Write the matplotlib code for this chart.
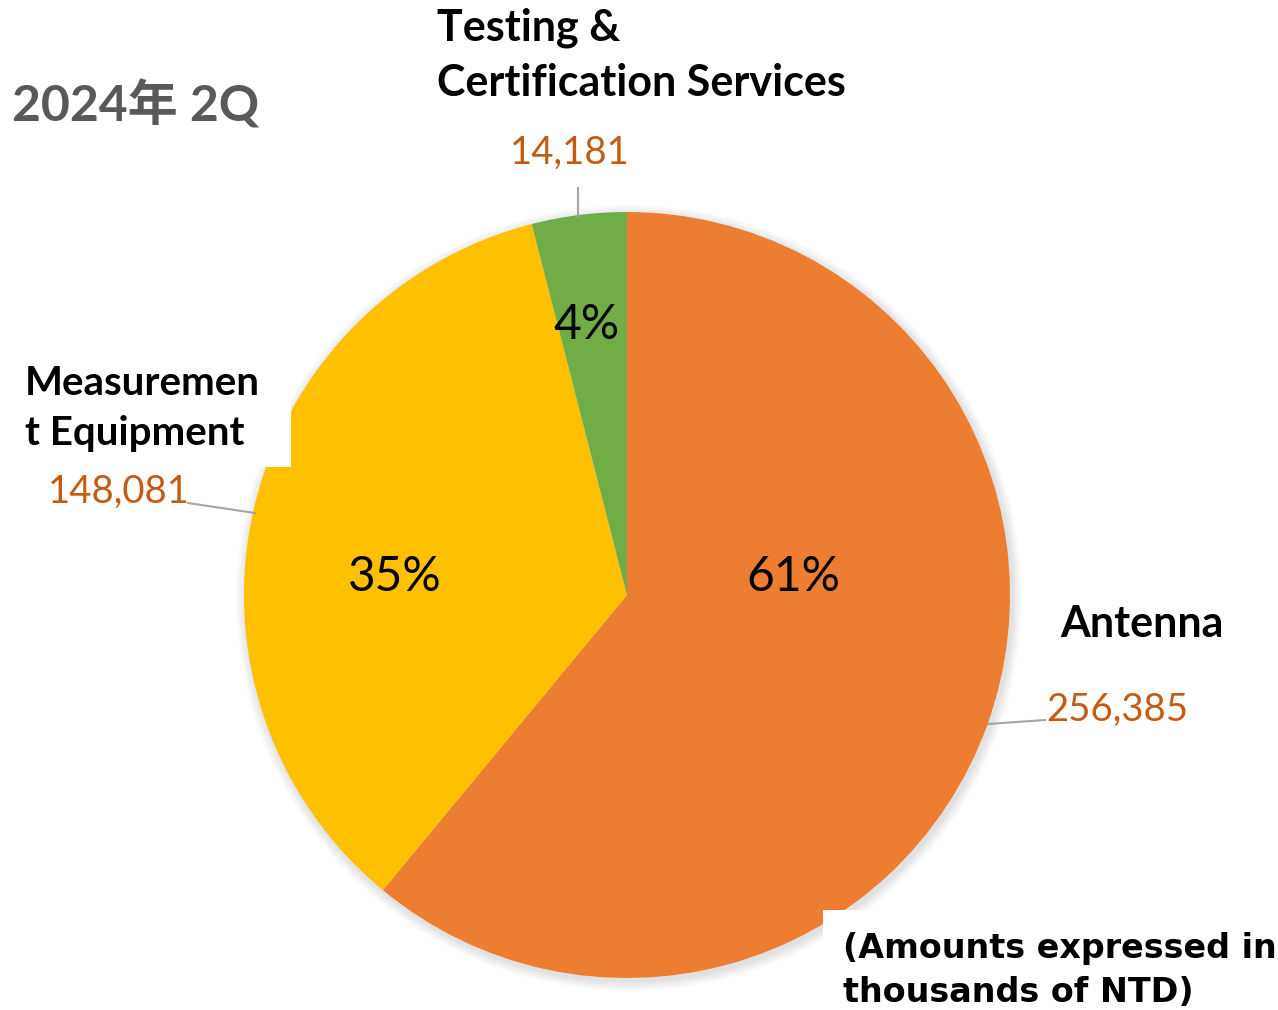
import matplotlib
matplotlib.use("Agg")
import matplotlib.pyplot as plt
from matplotlib.patches import Circle, Rectangle

# data
segments = ["Antenna", "Measurement Equipment", "Testing & Certification Services"]
amounts = [256385, 148081, 14181]          # thousands of NTD
shares = [61, 35, 4]                      # % as printed on the slices
colors = ["#ED7D31", "#FFC000", "#70AD47"]

W, H = 1278, 1010
fig = plt.figure(figsize=(W / 100, H / 100), dpi=100)
ax = fig.add_axes([0, 0, 1, 1])

cx, cy, r = 627, H - 595, 383

# soft shadow round the pie
for i in range(10):
    ax.add_patch(Circle((cx + 2, cy - 3), r + 10 - i, color="#000000", alpha=0.012, lw=0, zorder=0))

ax.pie(shares, colors=colors, startangle=90, counterclock=False,
       center=(cx, cy), radius=r, frame=True,
       wedgeprops=dict(linewidth=0, zorder=1))

ax.set_xlim(0, W)
ax.set_ylim(0, H)
ax.set_aspect("equal")
ax.axis("off")

bold = dict(family="Lato", weight="bold", color="black", fontsize=31)
amt = dict(family="Lato", color="#C55A11", fontsize=27.5)
pct = dict(family="Lato", color="black", fontsize=34.5, ha="center", va="center")

# title
ax.text(12, H - 122, "2024年 2Q", family=["Lato", "Noto Sans CJK SC"], weight="bold",
        color="#595959", fontsize=36, va="baseline")

# percentages on slices
ax.text(793, H - 577, f"{shares[0]}%", **pct)
ax.text(395, H - 577, f"{shares[1]}%", **pct)
ax.text(586, H - 325, f"{shares[2]}%", **pct)

# leader lines
line = dict(color="#A5A5A5", lw=1.5, zorder=2)
ax.plot([578, 578], [H - 188, H - 216], **line)
ax.plot([188, 255], [H - 503, H - 513], **line)
ax.plot([988, 1045], [H - 724, H - 720], **line)

# Testing & Certification
ax.text(437, H - 40, "Testing &", va="baseline", **bold)
ax.text(437, H - 96, "Certification Services", va="baseline", **bold)
ax.text(570, H - 164, f"{amounts[2]:,}", ha="center", va="baseline", **amt)

# Measurement Equipment (white box covers part of pie)
ax.add_patch(Rectangle((0, H - 467), 291, 112, color="white", lw=0, zorder=3))
mbold = dict(bold, fontsize=29)
ax.text(25, H - 395, "Measuremen", va="baseline", zorder=4, **mbold)
ax.text(25, H - 445, "t Equipment", va="baseline", zorder=4, **mbold)
ax.text(48, H - 503, f"{amounts[1]:,}", va="baseline", **amt)

# Antenna
ax.text(1060, H - 637, "Antenna", va="baseline", **bold)
ax.text(1046, H - 721, f"{amounts[0]:,}", va="baseline", **amt)

# note
ax.add_patch(Rectangle((823, 0), W - 823, H - 910, color="white", lw=0, zorder=3))
ax.text(843, H - 958, "(Amounts expressed in", va="baseline", zorder=4,
        family="DejaVu Sans", weight="bold", fontsize=24)
ax.text(843, H - 1002, "thousands of NTD)", va="baseline", zorder=4,
        family="DejaVu Sans", weight="bold", fontsize=24)

fig.savefig("out.png", dpi=100, facecolor="white")
